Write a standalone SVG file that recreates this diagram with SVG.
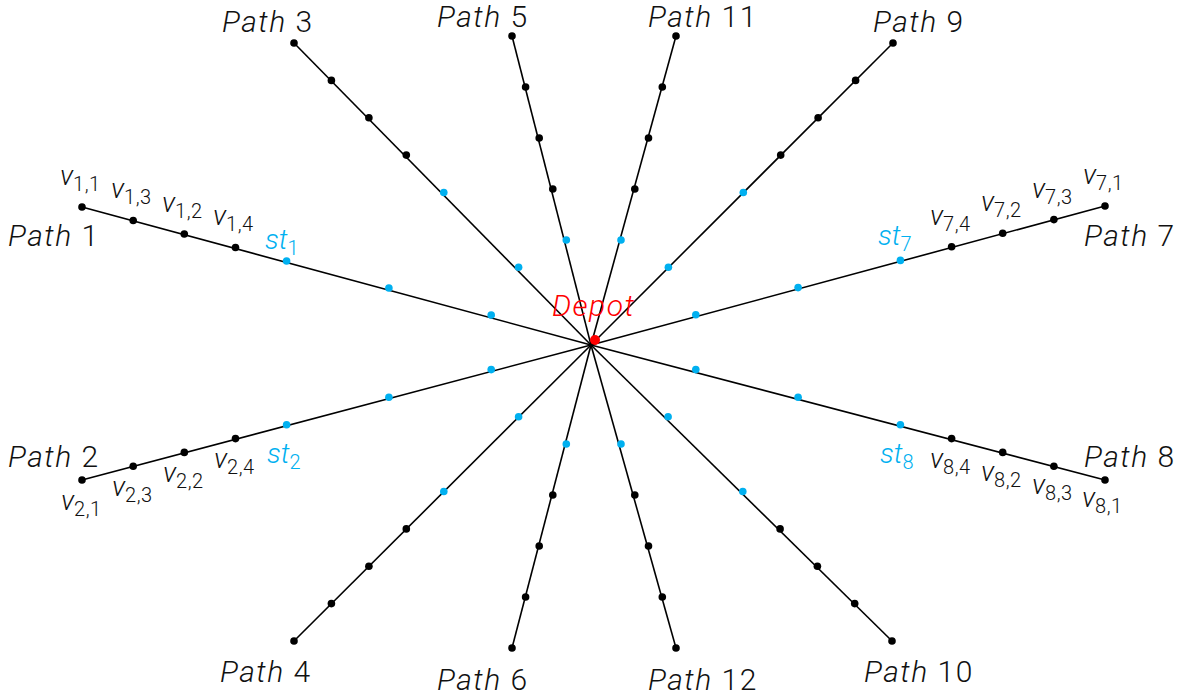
<svg xmlns="http://www.w3.org/2000/svg" width="1183" height="698" viewBox="0 0 1183 698">
<style>
text{font-family:Roboto,"Liberation Sans",sans-serif;font-weight:300;fill:#111}
.pl{font-size:30px;letter-spacing:1.5px}
.it{font-style:italic}
.v{font-size:28px}
.sub{font-size:20px;letter-spacing:0.5px}
.st{fill:#00b0f0}
.dk{fill:#000}
.bl{fill:#00b0f0}
.ln{stroke:#000;stroke-width:1.6;fill:none}
</style>
<rect width="1183" height="698" fill="#fff"/>
<g id="connectors" class="ln">
<line x1="82" y1="207" x2="591" y2="345"/>
<line x1="82" y1="480" x2="591" y2="345"/>
<line x1="1105" y1="206" x2="591" y2="345"/>
<line x1="1105" y1="480" x2="591" y2="345"/>
<line x1="294" y1="43" x2="591" y2="345"/>
<line x1="893" y1="43" x2="591" y2="345"/>
<line x1="294" y1="641" x2="591" y2="345"/>
<line x1="892" y1="641" x2="591" y2="345"/>
<line x1="512" y1="36" x2="591" y2="345"/>
<line x1="676" y1="36" x2="591" y2="345"/>
<line x1="512" y1="648" x2="591" y2="345"/>
<line x1="676" y1="648" x2="591" y2="345"/>
</g>
<g id="depot">
<circle cx="595" cy="340" r="5" fill="#f00"/>
<text x="552" y="316" class="pl it" style="fill:#f00">Depot</text>
</g>
<g id="path1">
<circle class="dk" cx="82" cy="207" r="3.8"/><circle class="dk" cx="133.2" cy="220.5" r="3.8"/><circle class="dk" cx="184.3" cy="234" r="3.8"/><circle class="dk" cx="235.5" cy="247.5" r="3.8"/>
<circle class="bl" cx="286.6" cy="261" r="3.8"/><circle class="bl" cx="388.9" cy="288" r="3.8"/><circle class="bl" cx="491.2" cy="315" r="3.8"/>
<text x="8" y="246" class="pl"><tspan class="it">Path</tspan> 1</text>
<text x="60" y="185" class="v"><tspan class="it">v</tspan><tspan class="sub" dy="6">1,1</tspan></text>
<text x="111" y="198" class="v"><tspan class="it">v</tspan><tspan class="sub" dy="6">1,3</tspan></text>
<text x="162" y="212" class="v"><tspan class="it">v</tspan><tspan class="sub" dy="6">1,2</tspan></text>
<text x="213" y="225" class="v"><tspan class="it">v</tspan><tspan class="sub" dy="6">1,4</tspan></text>
<text x="265" y="249" class="v st"><tspan class="it">st</tspan><tspan class="sub" dy="6">1</tspan></text>
</g>
<g id="path2">
<circle class="dk" cx="82" cy="480" r="3.8"/><circle class="dk" cx="133.2" cy="466.2" r="3.8"/><circle class="dk" cx="184.3" cy="452.4" r="3.8"/><circle class="dk" cx="235.5" cy="438.6" r="3.8"/>
<circle class="bl" cx="286.6" cy="424.8" r="3.8"/><circle class="bl" cx="388.9" cy="397.2" r="3.8"/><circle class="bl" cx="491.2" cy="369.6" r="3.8"/>
<text x="8" y="467" class="pl"><tspan class="it">Path</tspan> 2</text>
<text x="61" y="510" class="v"><tspan class="it">v</tspan><tspan class="sub" dy="6">2,1</tspan></text>
<text x="112" y="496" class="v"><tspan class="it">v</tspan><tspan class="sub" dy="6">2,3</tspan></text>
<text x="163" y="482" class="v"><tspan class="it">v</tspan><tspan class="sub" dy="6">2,2</tspan></text>
<text x="214" y="468" class="v"><tspan class="it">v</tspan><tspan class="sub" dy="6">2,4</tspan></text>
<text x="267" y="463" class="v st"><tspan class="it">st</tspan><tspan class="sub" dy="6">2</tspan></text>
</g>
<g id="path7">
<circle class="dk" cx="1105" cy="206" r="3.8"/><circle class="dk" cx="1053.9" cy="219.6" r="3.8"/><circle class="dk" cx="1002.7" cy="233.2" r="3.8"/><circle class="dk" cx="951.6" cy="246.8" r="3.8"/>
<circle class="bl" cx="900.4" cy="260.4" r="3.8"/><circle class="bl" cx="798.1" cy="287.6" r="3.8"/><circle class="bl" cx="695.8" cy="314.8" r="3.8"/>
<text x="1084" y="246" class="pl"><tspan class="it">Path</tspan> 7</text>
<text x="1083" y="184" class="v"><tspan class="it">v</tspan><tspan class="sub" dy="6">7,1</tspan></text>
<text x="1032" y="198" class="v"><tspan class="it">v</tspan><tspan class="sub" dy="6">7,3</tspan></text>
<text x="981" y="211" class="v"><tspan class="it">v</tspan><tspan class="sub" dy="6">7,2</tspan></text>
<text x="930" y="225" class="v"><tspan class="it">v</tspan><tspan class="sub" dy="6">7,4</tspan></text>
<text x="878" y="245" class="v st"><tspan class="it">st</tspan><tspan class="sub" dy="6">7</tspan></text>
</g>
<g id="path8">
<circle class="dk" cx="1105" cy="480" r="3.8"/><circle class="dk" cx="1053.9" cy="466.2" r="3.8"/><circle class="dk" cx="1002.7" cy="452.4" r="3.8"/><circle class="dk" cx="951.6" cy="438.6" r="3.8"/>
<circle class="bl" cx="900.4" cy="424.8" r="3.8"/><circle class="bl" cx="798.1" cy="397.2" r="3.8"/><circle class="bl" cx="695.8" cy="369.6" r="3.8"/>
<text x="1084" y="467" class="pl"><tspan class="it">Path</tspan> 8</text>
<text x="930" y="468" class="v"><tspan class="it">v</tspan><tspan class="sub" dy="6">8,4</tspan></text>
<text x="981" y="481" class="v"><tspan class="it">v</tspan><tspan class="sub" dy="6">8,2</tspan></text>
<text x="1032" y="494" class="v"><tspan class="it">v</tspan><tspan class="sub" dy="6">8,3</tspan></text>
<text x="1082" y="507" class="v"><tspan class="it">v</tspan><tspan class="sub" dy="6">8,1</tspan></text>
<text x="880" y="463" class="v st"><tspan class="it">st</tspan><tspan class="sub" dy="6">8</tspan></text>
</g>
<g id="path3">
<circle class="dk" cx="294" cy="43" r="3.8"/><circle class="dk" cx="331.4" cy="80.4" r="3.8"/><circle class="dk" cx="368.9" cy="117.8" r="3.8"/><circle class="dk" cx="406.3" cy="155.1" r="3.8"/>
<circle class="bl" cx="443.8" cy="192.5" r="3.8"/><circle class="bl" cx="518.6" cy="267.3" r="3.8"/>
<text x="222" y="32" class="pl"><tspan class="it">Path</tspan> 3</text>
</g>
<g id="path9">
<circle class="dk" cx="893" cy="43" r="3.8"/><circle class="dk" cx="855.6" cy="80.4" r="3.8"/><circle class="dk" cx="818.1" cy="117.8" r="3.8"/><circle class="dk" cx="780.7" cy="155.1" r="3.8"/>
<circle class="bl" cx="743.3" cy="192.5" r="3.8"/><circle class="bl" cx="668.4" cy="267.3" r="3.8"/>
<text x="873" y="32" class="pl"><tspan class="it">Path</tspan> 9</text>
</g>
<g id="path4">
<circle class="dk" cx="294" cy="641" r="3.8"/><circle class="dk" cx="331.4" cy="603.6" r="3.8"/><circle class="dk" cx="368.9" cy="566.3" r="3.8"/><circle class="dk" cx="406.3" cy="528.9" r="3.8"/>
<circle class="bl" cx="443.8" cy="491.5" r="3.8"/><circle class="bl" cx="518.6" cy="416.8" r="3.8"/>
<text x="220" y="682" class="pl"><tspan class="it">Path</tspan> 4</text>
</g>
<g id="path10">
<circle class="dk" cx="892" cy="641" r="3.8"/><circle class="dk" cx="854.7" cy="603.6" r="3.8"/><circle class="dk" cx="817.4" cy="566.3" r="3.8"/><circle class="dk" cx="780.1" cy="528.9" r="3.8"/>
<circle class="bl" cx="742.8" cy="491.5" r="3.8"/><circle class="bl" cx="668.1" cy="416.8" r="3.8"/>
<text x="864" y="682" class="pl"><tspan class="it">Path</tspan> 10</text>
</g>
<g id="path5">
<circle class="dk" cx="512" cy="36" r="3.8"/><circle class="dk" cx="525.6" cy="87" r="3.8"/><circle class="dk" cx="539.2" cy="138" r="3.8"/><circle class="dk" cx="552.8" cy="189" r="3.8"/>
<circle class="bl" cx="566.3" cy="240" r="3.8"/>
<text x="437" y="27" class="pl"><tspan class="it">Path</tspan> 5</text>
</g>
<g id="path11">
<circle class="dk" cx="676" cy="36" r="3.8"/><circle class="dk" cx="662.3" cy="87" r="3.8"/><circle class="dk" cx="648.5" cy="138" r="3.8"/><circle class="dk" cx="634.8" cy="189" r="3.8"/>
<circle class="bl" cx="621" cy="240" r="3.8"/>
<text x="648" y="27" class="pl"><tspan class="it">Path</tspan> 11</text>
</g>
<g id="path6">
<circle class="dk" cx="512" cy="648" r="3.8"/><circle class="dk" cx="525.6" cy="597" r="3.8"/><circle class="dk" cx="539.2" cy="546" r="3.8"/><circle class="dk" cx="552.8" cy="495" r="3.8"/>
<circle class="bl" cx="566.3" cy="444" r="3.8"/>
<text x="437" y="690" class="pl"><tspan class="it">Path</tspan> 6</text>
</g>
<g id="path12">
<circle class="dk" cx="676" cy="648" r="3.8"/><circle class="dk" cx="662.3" cy="597" r="3.8"/><circle class="dk" cx="648.5" cy="546" r="3.8"/><circle class="dk" cx="634.8" cy="495" r="3.8"/>
<circle class="bl" cx="621" cy="444" r="3.8"/>
<text x="648" y="690" class="pl"><tspan class="it">Path</tspan> 12</text>
</g>
</svg>
